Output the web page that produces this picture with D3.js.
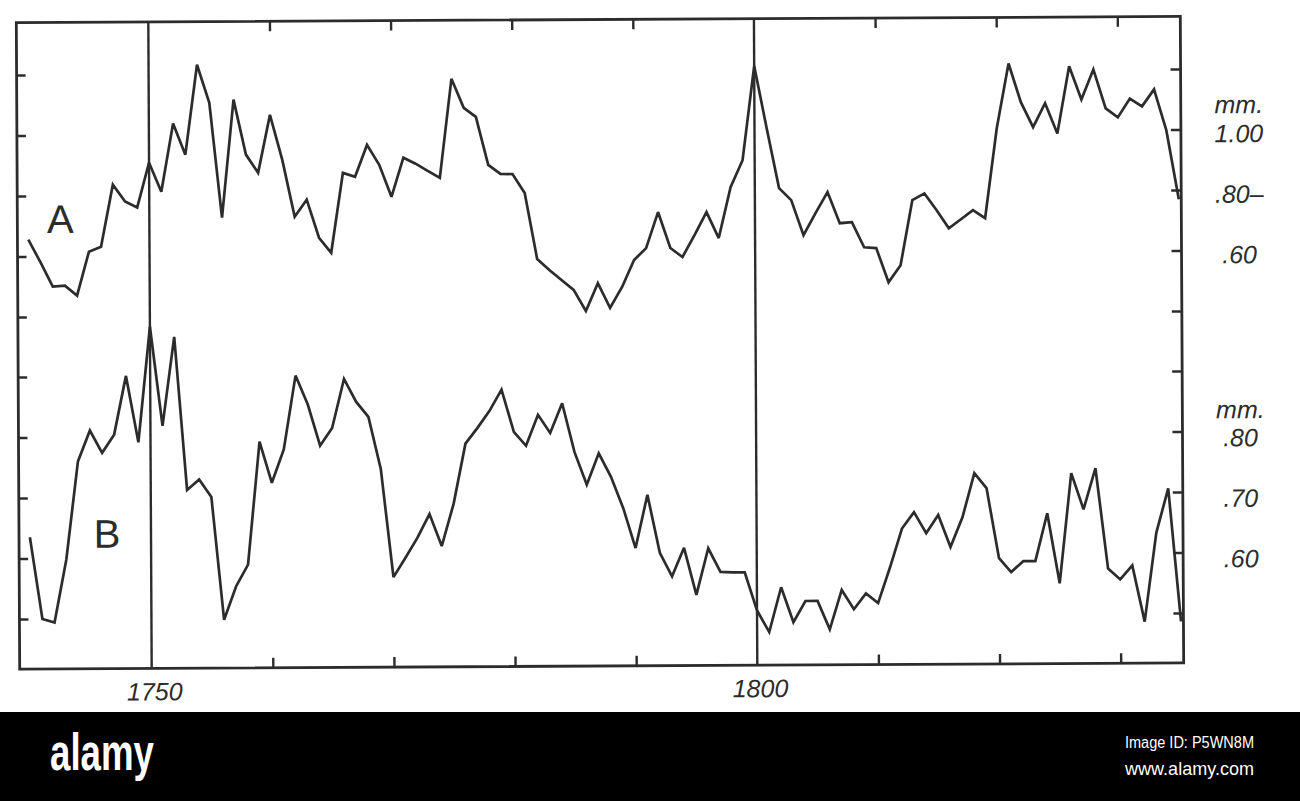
<!DOCTYPE html>
<html>
<head>
<meta charset="utf-8">
<script src="https://cdn.jsdelivr.net/npm/d3@7"></script>
<style>
  html, body { margin: 0; padding: 0; background: #ffffff; }
  svg { display: block; }
</style>
</head>
<body>
<svg id="chart" width="1300" height="801"></svg>
<script>
// ---------------- DATA ----------------
const years = d3.range(1740, 1836); // one value per year, 1740–1835

// Curve A (mm.)
const seriesA = [
  0.656, 0.580, 0.500, 0.503, 0.470, 0.615, 0.631, 0.836, 0.780, 0.760,
  0.908, 0.812, 1.037, 0.934, 1.231, 1.105, 0.725, 1.115, 0.933, 0.873,
  1.064, 0.915, 0.727, 0.783, 0.657, 0.607, 0.871, 0.858, 0.963, 0.897,
  0.791, 0.920, 0.900, 0.876, 0.853, 1.180, 1.084, 1.054, 0.895, 0.865,
  0.864, 0.801, 0.583, 0.546, 0.513, 0.480, 0.410, 0.502, 0.420, 0.489,
  0.578, 0.617, 0.736, 0.617, 0.587, 0.659, 0.735, 0.649, 0.817, 0.906,
  1.217, 1.012, 0.813, 0.773, 0.657, 0.730, 0.799, 0.696, 0.699, 0.616,
  0.613, 0.500, 0.556, 0.771, 0.793, 0.737, 0.677, 0.707, 0.737, 0.710,
  1.007, 1.221, 1.093, 1.010, 1.089, 0.989, 1.211, 1.101, 1.200, 1.071,
  1.041, 1.103, 1.077, 1.133, 0.997, 0.769
];

// Curve B (mm.)
const seriesB = [
  0.635, 0.500, 0.494, 0.598, 0.760, 0.811, 0.774, 0.804, 0.901, 0.791,
  0.982, 0.818, 0.965, 0.712, 0.729, 0.700, 0.497, 0.552, 0.588, 0.791,
  0.723, 0.778, 0.900, 0.852, 0.784, 0.813, 0.894, 0.856, 0.831, 0.745,
  0.566, 0.598, 0.631, 0.670, 0.617, 0.687, 0.786, 0.812, 0.840, 0.875,
  0.805, 0.782, 0.833, 0.803, 0.852, 0.771, 0.717, 0.769, 0.730, 0.678,
  0.612, 0.700, 0.604, 0.565, 0.612, 0.534, 0.611, 0.572, 0.571, 0.571,
  0.508, 0.472, 0.546, 0.488, 0.523, 0.523, 0.476, 0.541, 0.509, 0.535,
  0.519, 0.578, 0.642, 0.669, 0.634, 0.664, 0.611, 0.660, 0.733, 0.708,
  0.592, 0.569, 0.587, 0.587, 0.666, 0.550, 0.732, 0.672, 0.740, 0.574,
  0.556, 0.579, 0.486, 0.633, 0.706, 0.486
];

// Axis ticks and labels
const decadeTicks = [1760, 1770, 1780, 1790, 1810, 1820, 1830];
const markerYears = [1750, 1800];
const xLabels = ["1750", "1800"];
const aTickValues = [1.2, 1.0, 0.8, 0.6, 0.4];
const bTickValues = [0.9, 0.8, 0.7, 0.6, 0.5];
const aLabelValues = [1.0, 0.8, 0.6];
const aLabelTexts = ["1.00", ".80\u2013", ".60"];
const bLabelValues = [0.8, 0.7, 0.6];
const bLabelTexts = [".80", ".70", ".60"];
const unitText = "mm.";
const seriesNames = ["A", "B"];

// ---------------- LAYOUT ----------------
const ink = "#2c2c2c";
const svg = d3.select("#chart");
svg.append("rect").attr("width", 1300).attr("height", 801).attr("fill", "#ffffff");

const L = 18, R = 1182, T = 19.5, B = 666;

const x = d3.scaleLinear().domain([1750, 1830]).range([150, 1119]);
const yA = d3.scaleLinear().domain([0.4, 1.2]).range([314, 72]);
const yB = d3.scaleLinear().domain([0.5, 0.9]).range([616, 374]);

// whole scanned figure is slightly rotated
const g = svg.append("g").attr("transform", "rotate(-0.3, 600, 343)");

// frame
g.append("rect")
  .attr("x", L).attr("y", T).attr("width", R - L).attr("height", B - T)
  .attr("fill", "none").attr("stroke", ink).attr("stroke-width", 2.8);

function styleAxis(sel) {
  sel.select(".domain").remove();
  sel.selectAll(".tick line").attr("stroke", ink).attr("stroke-width", 2.4);
  sel.selectAll(".tick text").remove();
}

// left ticks
g.append("g").attr("transform", `translate(${L},0)`)
  .call(d3.axisLeft(yA).tickValues(aTickValues).tickSize(-9).tickFormat(""))
  .call(styleAxis);
g.append("g").attr("transform", `translate(${L},0)`)
  .call(d3.axisLeft(yB).tickValues(bTickValues).tickSize(-9).tickFormat(""))
  .call(styleAxis);
// right ticks
g.append("g").attr("transform", `translate(${R},0)`)
  .call(d3.axisRight(yA).tickValues(aTickValues).tickSize(-10).tickFormat(""))
  .call(styleAxis);
g.append("g").attr("transform", `translate(${R},0)`)
  .call(d3.axisRight(yB).tickValues(bTickValues).tickSize(-10).tickFormat(""))
  .call(styleAxis);
// top & bottom ticks
g.append("g").attr("transform", `translate(0,${T})`)
  .call(d3.axisTop(x).tickValues(decadeTicks).tickSize(-10).tickFormat(""))
  .call(styleAxis);
g.append("g").attr("transform", `translate(0,${B})`)
  .call(d3.axisBottom(x).tickValues(decadeTicks).tickSize(-10).tickFormat(""))
  .call(styleAxis);

// full-height marker lines for 1750 and 1800
g.selectAll("line.marker").data(markerYears).enter().append("line")
  .attr("class", "marker")
  .attr("x1", d => x(d)).attr("x2", d => x(d))
  .attr("y1", T).attr("y2", B)
  .attr("stroke", ink).attr("stroke-width", 2.4);

// x labels
g.selectAll("text.xl").data(markerYears).enter().append("text")
  .attr("class", "xl")
  .attr("x", d => x(d) + 3).attr("y", B + 32)
  .attr("text-anchor", "middle")
  .attr("font-family", "'Liberation Sans', Arial, sans-serif")
  .attr("font-style", "italic")
  .attr("font-size", 25)
  .attr("fill", ink)
  .text((d, i) => xLabels[i]);

// series lines
const lineA = d3.line().x((d, i) => x(years[i])).y(d => yA(d));
const lineB = d3.line().x((d, i) => x(years[i])).y(d => yB(d));
g.append("path").datum(seriesA).attr("d", lineA)
  .attr("fill", "none").attr("stroke", ink).attr("stroke-width", 2.7)
  .attr("stroke-linejoin", "miter").attr("stroke-miterlimit", 3);
g.append("path").datum(seriesB).attr("d", lineB)
  .attr("fill", "none").attr("stroke", ink).attr("stroke-width", 2.7)
  .attr("stroke-linejoin", "miter").attr("stroke-miterlimit", 3);

// series names
g.append("text").attr("x", 61).attr("y", 230).attr("text-anchor", "middle")
  .attr("font-family", "'Liberation Sans', Arial, sans-serif")
  .attr("font-size", 40).attr("fill", ink).text(seriesNames[0]);
g.append("text").attr("x", 106).attr("y", 545).attr("text-anchor", "middle")
  .attr("font-family", "'Liberation Sans', Arial, sans-serif")
  .attr("font-size", 40).attr("fill", ink).text(seriesNames[1]);

// right-hand scale labels
const labelX = 1240;
function rightLabel(yPos, txt) {
  g.append("text").attr("x", labelX).attr("y", yPos)
    .attr("text-anchor", "middle")
    .attr("font-family", "'Liberation Sans', Arial, sans-serif")
    .attr("font-style", "italic")
    .attr("font-size", 25)
    .attr("fill", ink)
    .text(txt);
}
rightLabel(yA(aLabelValues[0]) - 16, unitText);
aLabelValues.forEach((v, i) => rightLabel(yA(v) + 13, aLabelTexts[i]));
rightLabel(yB(bLabelValues[0]) - 13, unitText);
bLabelValues.forEach((v, i) => rightLabel(yB(v) + 15, bLabelTexts[i]));

// ---------------- stock-photo banner ----------------
svg.append("rect").attr("x", 0).attr("y", 712).attr("width", 1300).attr("height", 89).attr("fill", "#000000");
svg.append("text").attr("x", 50).attr("y", 770)
  .attr("font-family", "'Liberation Sans', Arial, sans-serif")
  .attr("font-weight", "bold").attr("font-size", 52)
  .attr("textLength", 104).attr("lengthAdjust", "spacingAndGlyphs")
  .attr("fill", "#ffffff").text("alamy");
svg.append("text").attr("x", 1125).attr("y", 748)
  .attr("font-family", "'Liberation Sans', Arial, sans-serif")
  .attr("font-size", 16)
  .attr("textLength", 129).attr("lengthAdjust", "spacingAndGlyphs")
  .attr("fill", "#ffffff").text("Image ID: P5WN8M");
svg.append("text").attr("x", 1125).attr("y", 775)
  .attr("font-family", "'Liberation Sans', Arial, sans-serif")
  .attr("font-size", 19)
  .attr("textLength", 129).attr("lengthAdjust", "spacingAndGlyphs")
  .attr("fill", "#ffffff").text("www.alamy.com");
</script>
</body>
</html>
